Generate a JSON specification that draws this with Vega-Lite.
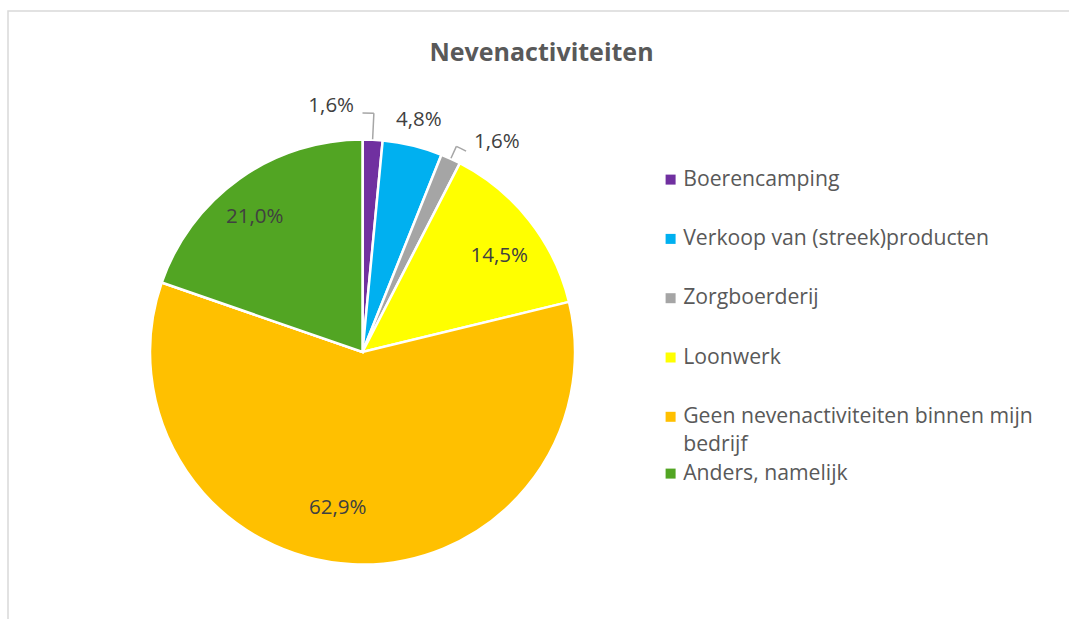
{
  "$schema": "https://vega.github.io/schema/vega-lite/v6.json",
  "autosize": {"type": "none"},
  "width": 1063,
  "height": 612,
  "padding": {"left": 8, "top": 11, "right": 0, "bottom": 0},
  "background": "white",
  "view": {"stroke": "#D9D9D9", "strokeWidth": 1.5},
  "title": {
    "text": "Nevenactiviteiten",
    "anchor": "middle",
    "offset": -55,
    "dx": 2,
    "font": "Open Sans",
    "fontSize": 25,
    "fontWeight": "bold",
    "color": "#595959"
  },
  "data": {
    "values": [
      {"cat": "Boerencamping", "n": 1, "pct": 0.016},
      {"cat": "Verkoop van (streek)producten", "n": 3, "pct": 0.048},
      {"cat": "Zorgboerderij", "n": 1, "pct": 0.016},
      {"cat": "Loonwerk", "n": 9, "pct": 0.145},
      {"cat": "Geen nevenactiviteiten binnen mijn bedrijf", "n": 39, "pct": 0.629},
      {"cat": "Anders, namelijk", "n": 13, "pct": 0.21}
    ]
  },
  "transform": [
    {"window": [{"op": "sum", "field": "n", "as": "cum"}], "frame": [null, 0]},
    {"calculate": "datum.cum - datum.n", "as": "start"},
    {"calculate": "datum.cum - datum.n / 2", "as": "mid"},
    {"calculate": "datum.cat", "as": "cat2"}
  ],
  "layer": [
    {
      "mark": {"type": "arc", "stroke": "white", "strokeWidth": 2.5, "x": 354.5, "y": 341},
      "encoding": {
        "theta": {"field": "start", "type": "quantitative", "stack": null, "scale": {"domain": [0, 66]}},
        "theta2": {"field": "cum"},
        "radius": {"value": 212.5},
        "color": {
          "field": "cat",
          "type": "nominal",
          "sort": null,
          "scale": {
            "domain": ["Boerencamping", "Verkoop van (streek)producten", "Zorgboerderij", "Loonwerk", "Geen nevenactiviteiten binnen mijn bedrijf", "Anders, namelijk"],
            "range": ["#7030A0", "#00B0F0", "#A5A5A5", "#FFFF00", "#FFC000", "#52A523"]
          },
          "legend": {
            "title": null,
            "orient": "none",
            "legendX": 652,
            "legendY": 158,
            "values": ["Boerencamping", "Verkoop van (streek)producten", "Zorgboerderij", "Loonwerk", "Geen nevenactiviteiten binnen mijn bedrijf"],
            "labelExpr": "datum.label == 'Geen nevenactiviteiten binnen mijn bedrijf' ? ['Geen nevenactiviteiten binnen mijn', 'bedrijf'] : datum.label"
          }
        }
      }
    },
    {
      "transform": [{"filter": "datum.cat == 'Anders, namelijk'"}],
      "mark": {"type": "arc", "stroke": "white", "strokeWidth": 2.5, "x": 354.5, "y": 341},
      "encoding": {
        "theta": {"field": "start", "type": "quantitative", "stack": null, "scale": {"domain": [0, 66]}},
        "theta2": {"field": "cum"},
        "radius": {"value": 212.5},
        "fill": {
          "field": "cat2",
          "type": "nominal",
          "scale": {"domain": ["Anders, namelijk"], "range": ["#52A523"]},
          "legend": {
            "title": null,
            "orient": "none",
            "legendX": 652,
            "legendY": 452,
            "values": ["Anders, namelijk"]
          }
        }
      }
    },
    {
      "transform": [{"filter": "datum.cat == 'Loonwerk'"}],
      "mark": {"type": "text", "x": 354.5, "y": 341, "dx": 7, "dy": 6, "font": "Open Sans", "fontSize": 20.5, "color": "#404040", "align": "center", "baseline": "middle"},
      "encoding": {
        "theta": {"field": "mid", "type": "quantitative", "stack": null, "scale": {"domain": [0, 66]}},
        "radius": {"value": 165},
        "text": {"field": "pct", "type": "quantitative", "format": ".1%"}
      }
    },
    {
      "transform": [{"filter": "datum.cat == 'Geen nevenactiviteiten binnen mijn bedrijf'"}],
      "mark": {"type": "text", "x": 354.5, "y": 341, "dx": -17, "dy": -9, "font": "Open Sans", "fontSize": 20.5, "color": "#404040", "align": "center", "baseline": "middle"},
      "encoding": {
        "theta": {"field": "mid", "type": "quantitative", "stack": null, "scale": {"domain": [0, 66]}},
        "radius": {"value": 165},
        "text": {"field": "pct", "type": "quantitative", "format": ".1%"}
      }
    },
    {
      "transform": [{"filter": "datum.cat == 'Anders, namelijk'"}],
      "mark": {"type": "text", "x": 354.5, "y": 341, "dx": -12, "dy": -1, "font": "Open Sans", "fontSize": 20.5, "color": "#404040", "align": "center", "baseline": "middle"},
      "encoding": {
        "theta": {"field": "mid", "type": "quantitative", "stack": null, "scale": {"domain": [0, 66]}},
        "radius": {"value": 165},
        "text": {"field": "pct", "type": "quantitative", "format": ".1%"}
      }
    },
    {
      "transform": [{"filter": "datum.cat == 'Verkoop van (streek)producten'"}],
      "mark": {"type": "text", "x": 354.5, "y": 341, "font": "Open Sans", "fontSize": 20.5, "color": "#404040", "align": "center", "baseline": "middle"},
      "encoding": {
        "theta": {"field": "mid", "type": "quantitative", "stack": null, "scale": {"domain": [0, 66]}},
        "radius": {"value": 239},
        "text": {"field": "pct", "type": "quantitative", "format": ".1%"}
      }
    },
    {
      "transform": [{"filter": "datum.cat == 'Boerencamping'"}],
      "mark": {"type": "text", "x": 354.5, "y": 341, "dx": -43, "dy": 0, "font": "Open Sans", "fontSize": 20.5, "color": "#404040", "align": "center", "baseline": "middle"},
      "encoding": {
        "theta": {"field": "mid", "type": "quantitative", "stack": null, "scale": {"domain": [0, 66]}},
        "radius": {"value": 246},
        "text": {"field": "pct", "type": "quantitative", "format": ".1%"}
      }
    },
    {
      "transform": [{"filter": "datum.cat == 'Zorgboerderij'"}],
      "mark": {"type": "text", "x": 354.5, "y": 341, "dx": 22, "dy": 8, "font": "Open Sans", "fontSize": 20.5, "color": "#404040", "align": "center", "baseline": "middle"},
      "encoding": {
        "theta": {"field": "cum", "type": "quantitative", "stack": null, "scale": {"domain": [0, 66]}},
        "radius": {"value": 245},
        "text": {"field": "pct", "type": "quantitative", "format": ".1%"}
      }
    },
    {
      "transform": [{"filter": "datum.cat == 'Boerencamping'"}],
      "mark": {"type": "arc", "x": 354.5, "y": 341, "fill": null, "stroke": "#A6A6A6", "strokeWidth": 1.5},
      "encoding": {
        "theta": {"field": "mid", "type": "quantitative", "stack": null, "scale": {"domain": [0, 66]}},
        "theta2": {"field": "mid"},
        "radius": {"value": 239},
        "radius2": {"value": 213}
      }
    },
    {
      "transform": [{"filter": "datum.cat == 'Boerencamping'"}],
      "mark": {"type": "arc", "x": 354.5, "y": 341, "fill": null, "stroke": "#A6A6A6", "strokeWidth": 1.5},
      "encoding": {
        "theta": {"field": "start", "type": "quantitative", "stack": null, "scale": {"domain": [0, 66]}},
        "theta2": {"field": "mid"},
        "radius": {"value": 239},
        "radius2": {"value": 239}
      }
    },
    {
      "transform": [{"filter": "datum.cat == 'Zorgboerderij'"}],
      "mark": {"type": "arc", "x": 354.5, "y": 341, "fill": null, "stroke": "#A6A6A6", "strokeWidth": 1.5},
      "encoding": {
        "theta": {"field": "mid", "type": "quantitative", "stack": null, "scale": {"domain": [0, 66]}},
        "theta2": {"field": "mid"},
        "radius": {"value": 226},
        "radius2": {"value": 213}
      }
    },
    {
      "transform": [{"filter": "datum.cat == 'Zorgboerderij'"}],
      "mark": {"type": "arc", "x": 354.5, "y": 341, "fill": null, "stroke": "#A6A6A6", "strokeWidth": 1.5},
      "encoding": {
        "theta": {"field": "mid", "type": "quantitative", "stack": null, "scale": {"domain": [0, 66]}},
        "theta2": {"field": "cum"},
        "radius": {"value": 226},
        "radius2": {"value": 226}
      }
    }
  ],
  "config": {
    "view": {"stroke": "#D9D9D9", "strokeWidth": 1.5},
    "locale": {"number": {"decimal": ",", "thousands": ".", "grouping": [3], "currency": ["€ ", ""]}},
    "style": {"guide-label": {"lineHeight": 28.5}},
    "legend": {
      "symbolType": "square",
      "symbolSize": 100,
      "symbolStrokeWidth": 0,
      "labelFont": "Open Sans",
      "labelFontSize": 21.2,
      "labelColor": "#595959",
      "labelOffset": 2,
      "labelLimit": 420,
      "rowPadding": 37.3
    }
  }
}
